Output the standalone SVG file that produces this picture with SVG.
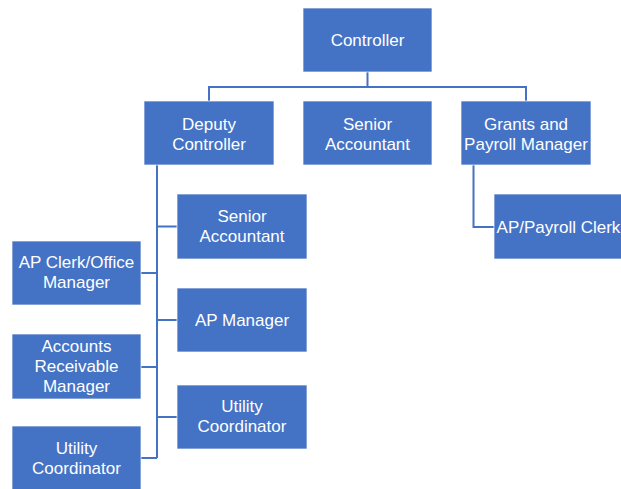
<svg xmlns="http://www.w3.org/2000/svg" width="621" height="489" viewBox="0 0 621 489">
<style>
.box{fill:#4472C4;stroke:#ffffff;stroke-width:1;stroke-opacity:0.7}
.t{font-family:"Liberation Sans",Arial,sans-serif;font-size:17px;fill:#ffffff;text-anchor:middle}
.c{fill:none;stroke:#4472C4;stroke-width:2}
</style>
<rect width="621" height="489" fill="#ffffff"/>
<g id="connectors">
<path class="c" d="M367.5 72 V87 M209 101 V87 H526 V101"/>
<path class="c" d="M157 165 V458 M157 226.5 H177 M157 320 H177 M157 417 H177 M141 273 H157 M141 367 H157 M141 458 H157"/>
<path class="c" d="M473.5 165 V227 H494"/>
</g>
<g id="controller"><rect class="box" x="303" y="8" width="129" height="64"/><text class="t" x="367.5" y="46">Controller</text></g>
<g id="deputy-controller"><rect class="box" x="144" y="101" width="130" height="64"/><text class="t" x="209" y="129.5">Deputy</text><text class="t" x="209" y="149.5">Controller</text></g>
<g id="senior-accountant-top"><rect class="box" x="303" y="101" width="129" height="64"/><text class="t" x="367.5" y="129.5">Senior</text><text class="t" x="367.5" y="149.5">Accountant</text></g>
<g id="grants-payroll-manager"><rect class="box" x="461" y="101" width="130" height="64"/><text class="t" x="526" y="129.5">Grants and</text><text class="t" x="526" y="149.5">Payroll Manager</text></g>
<g id="ap-payroll-clerk"><rect class="box" x="494" y="194" width="129" height="65"/><text class="t" x="558.5" y="232.5">AP/Payroll Clerk</text></g>
<g id="senior-accountant"><rect class="box" x="177" y="194" width="130" height="65"/><text class="t" x="242" y="221.5">Senior</text><text class="t" x="242" y="241.5">Accountant</text></g>
<g id="ap-manager"><rect class="box" x="177" y="288" width="130" height="64"/><text class="t" x="242" y="325.5">AP Manager</text></g>
<g id="utility-coordinator-right"><rect class="box" x="177" y="385" width="130" height="64"/><text class="t" x="242" y="411.5">Utility</text><text class="t" x="242" y="431.5">Coordinator</text></g>
<g id="ap-clerk-office-manager"><rect class="box" x="12" y="241" width="129" height="64"/><text class="t" x="76.5" y="268">AP Clerk/Office</text><text class="t" x="76.5" y="288">Manager</text></g>
<g id="accounts-receivable-manager"><rect class="box" x="12" y="334" width="129" height="65"/><text class="t" x="76.5" y="352">Accounts</text><text class="t" x="76.5" y="372">Receivable</text><text class="t" x="76.5" y="392">Manager</text></g>
<g id="utility-coordinator-left"><rect class="box" x="12" y="426" width="129" height="64"/><text class="t" x="76.5" y="453.5">Utility</text><text class="t" x="76.5" y="473.5">Coordinator</text></g>
</svg>
